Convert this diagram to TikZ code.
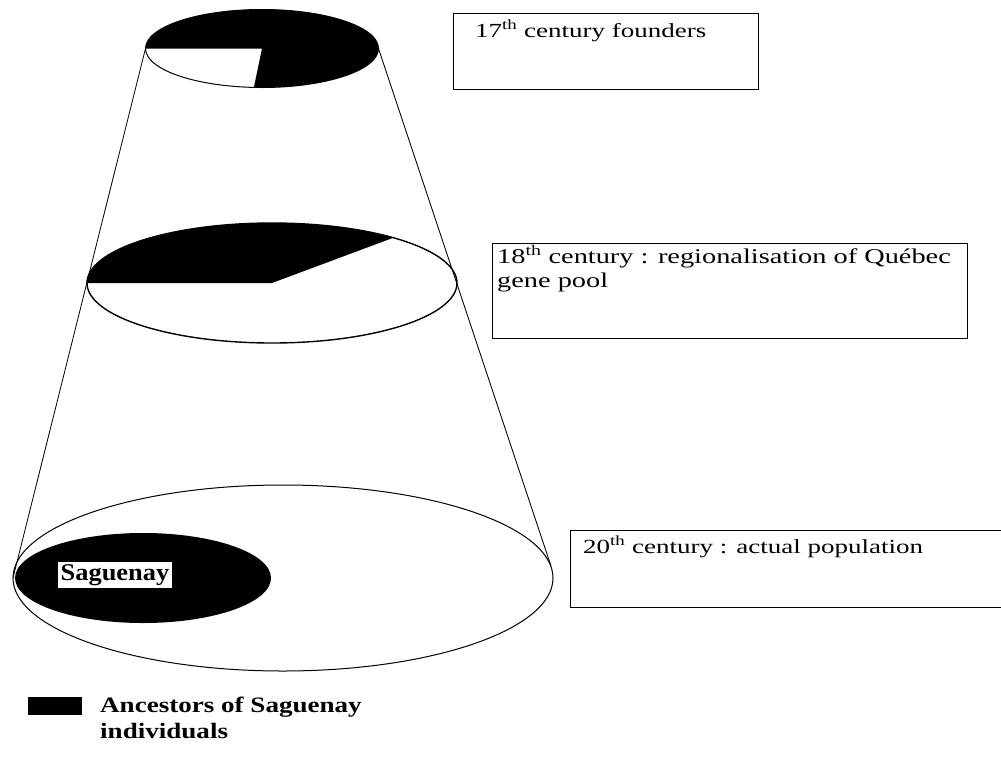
\documentclass[tikz,border=0pt]{standalone}
\usepackage{fontspec}
\setmainfont{Liberation Serif}
\newfontfamily\erafont{Liberation Serif}[FakeStretch=1.35]
\newfontfamily\keyfont{Liberation Serif}[FakeStretch=1.1]
\newfontfamily\legendfont{Liberation Serif}[FakeStretch=1.23]

\tikzset{
  rim/.style={draw=black, line width=1pt},
  cone/.style={draw=black, line width=0.8pt},
  pool/.style={fill=black},
  eraframe/.style={draw=black, line width=1.4pt, anchor=north west, inner sep=0pt},
  eratext/.style={anchor=base west, inner sep=0pt, align=left,
    font=\erafont\fontsize{20}{24}\selectfont},
}

\begin{document}
\begin{tikzpicture}[x=1pt,y=-1pt]
      \useasboundingbox (0,0) rectangle (1001,774);
      % centres of the three cuts
      \coordinate (c17) at (262,48.5);
      \coordinate (c18) at (272,283);
      \coordinate (c20) at (283,578);
      % rims of the cone
      \coordinate (t17l) at (145.5,48.5);
      \coordinate (t17r) at (378.5,48.5);
      \coordinate (b20l) at (13,578);
      \coordinate (b20r) at (551,566);
      \draw[cone] (t17l) -- (b20l);
      \draw[cone] (t17r) -- (b20r);
      % 17th century cut
      \fill[pool] (c17) -- ++({116.5*cos(94)},{39*sin(94)})
        arc[start angle=94, end angle=-180, x radius=116.5, y radius=39] -- cycle;
      \draw[rim] (c17) ellipse [x radius=116.5, y radius=39];
      % 18th century cut
      \fill[pool] (c18) -- ++({185*cos(-49)},{60*sin(-49)})
        arc[start angle=-49, end angle=-180, x radius=185, y radius=60] -- cycle;
      \draw[rim, line width=1.4pt] (c18) ellipse [x radius=185, y radius=60];
      % 20th century cut
      \draw[rim] (c20) ellipse [x radius=270, y radius=93];
      \fill[pool] (143,578) ellipse [x radius=128, y radius=45];
      \node[fill=white, inner sep=2.5pt, font=\keyfont\bfseries\fontsize{24}{26}\selectfont] (sag) at (115,575) {Saguenay};
      % boxes
      \node[eraframe, minimum width=305pt, minimum height=76pt] (b17) at (453,13) {};
      \node[eratext] (t17) at (475,37) {17\textsuperscript{th} century founders};
      \node[eraframe, minimum width=475pt, minimum height=95pt] (b18) at (492,243) {};
      \node[eratext, font=\erafont\fontsize{21}{24}\selectfont] (t18) at (497,287) {18\textsuperscript{th} century : regionalisation of Québec\\gene pool};
      \node[eraframe, minimum width=432pt, minimum height=77pt] (b20) at (570,530) {};
      \node[eratext] (t20) at (583,553) {20\textsuperscript{th} century : actual population};
      % legend
      \node[pool, minimum width=54pt, minimum height=18pt, inner sep=0pt] (key) at (55,706) {};
      \node[anchor=base west, inner sep=0pt, align=left,
        font=\legendfont\bfseries\fontsize{22}{26}\selectfont] (keytext) at (100,738) {Ancestors of Saguenay\\individuals};
    \end{tikzpicture}
\end{document}
